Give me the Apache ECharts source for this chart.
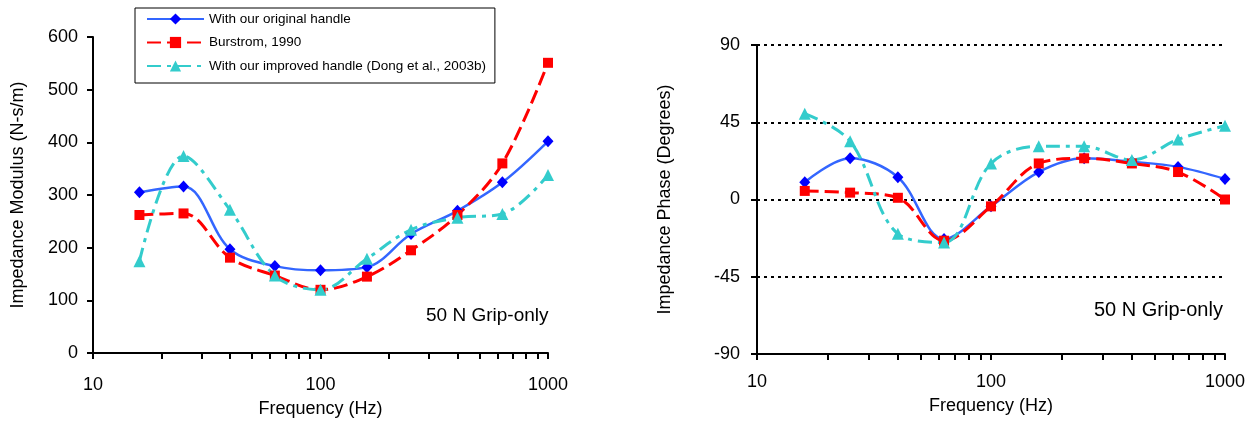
<!DOCTYPE html>
<html>
<head>
<meta charset="utf-8">
<script src="https://cdn.jsdelivr.net/npm/echarts@6/dist/echarts.min.js"></script>
<style>
html,body{margin:0;padding:0;background:#fff;}
#chart{width:1258px;height:421px;}
</style>
</head>
<body>
<div id="chart"></div>
<script>
// ---- data ----
const freq = [16, 25, 40, 63, 100, 160, 250, 400, 630, 1000];
const seriesNames = ['With our original handle', 'Burstrom, 1990', 'With our improved handle (Dong et al., 2003b)'];
const modOriginal = [305, 316, 197, 165, 157, 163, 226, 270, 324, 402];
const modBurstrom = [262, 265, 181, 147, 120, 145, 195, 262, 360, 551];
const modImproved = [174, 374, 272, 147, 120, 179, 234, 257, 264, 338];
const phOriginal = [10, 24, 13, -23, -4, 16, 24, 22, 19, 12];
const phBurstrom = [5, 4, 1, -24, -4, 21, 24, 21, 16, 0];
const phImproved = [50, 34, -20, -25, 21, 31, 31, 23, 35, 43];
const xTickValues = [10,20,30,40,50,60,70,80,90,100,200,300,400,500,600,700,800,900,1000];
const xLabelValues = [10, 100, 1000];
const annotation = '50 N Grip-only';

const FONT = 'Liberation Sans';
const pair = (xs, ys) => xs.map((x, i) => [x, ys[i]]);

const styles = [
  {line: {color: '#3366ff', width: 2.5, type: 'solid'}, symbol: 'diamond', size: [11, 12], color: '#0000ff'},
  {line: {color: '#ff0000', width: 3, type: [14, 6]}, symbol: 'rect', size: 10, color: '#ff0000'},
  {line: {color: '#33cccc', width: 3, type: [14, 6, 4, 6]}, symbol: 'triangle', size: 12, color: '#33cccc'}
];

function mkSeries(name, data, st, idx) {
  return {
    name: name, type: 'line', xAxisIndex: idx, yAxisIndex: idx,
    data: data, smooth: 0.35, symbol: st.symbol, symbolSize: st.size,
    showAllSymbol: true,
    lineStyle: st.line, itemStyle: {color: st.color},
    emphasis: {disabled: true}, z: 3
  };
}

function xAxisCfg(gridIndex, labelMargin, nameGap) {
  return {
    type: 'log', logBase: 10, gridIndex: gridIndex, min: 10, max: 1000,
    name: 'Frequency (Hz)', nameLocation: 'middle', nameGap: nameGap,
    nameTextStyle: {fontFamily: FONT, fontSize: 18, color: '#000'},
    axisLine: {onZero: false, lineStyle: {color: '#000', width: 2}},
    axisTick: {show: true, inside: false, length: 6, lineStyle: {color: '#000', width: 2}, customValues: xTickValues},
    axisLabel: {fontFamily: FONT, fontSize: 18, color: '#000', margin: labelMargin, customValues: xLabelValues,
      formatter: v => String(Math.round(v))},
    splitLine: {show: false}, minorTick: {show: false}
  };
}

const option = {
  backgroundColor: '#fff',
  animation: false,
  legend: {
    left: 135, top: 8, orient: 'vertical',
    data: seriesNames,
    borderColor: '#000', borderWidth: 1, borderRadius: 0,
    padding: [4, 9, 10, 11],
    itemWidth: 57, itemHeight: 14, itemGap: 9.5,
    textStyle: {fontFamily: FONT, fontSize: 13.5, color: '#000'},
    selectedMode: false
  },
  grid: [
    {left: 93, top: 37, width: 455, height: 316, containLabel: false, outerBoundsMode: 'none'},
    {left: 757, top: 45, width: 468, height: 309, containLabel: false, outerBoundsMode: 'none'}
  ],
  xAxis: [xAxisCfg(0, 23, 47), xAxisCfg(1, 19, 43)],
  yAxis: [
    {
      type: 'value', gridIndex: 0, min: 0, max: 600, interval: 100,
      name: 'Impedance Modulus (N-s/m)', nameLocation: 'middle', nameGap: 66,
      nameTextStyle: {fontFamily: FONT, fontSize: 18, color: '#000'},
      axisLine: {show: true, lineStyle: {color: '#000', width: 2}},
      axisTick: {show: true, length: 6, lineStyle: {color: '#000', width: 2}},
      axisLabel: {fontFamily: FONT, fontSize: 18, color: '#000', margin: 15},
      splitLine: {show: false}
    },
    {
      type: 'value', gridIndex: 1, min: -90, max: 90, interval: 45,
      name: 'Impedance Phase (Degrees)', nameLocation: 'middle', nameGap: 83,
      nameTextStyle: {fontFamily: FONT, fontSize: 18, color: '#000'},
      axisLine: {show: true, lineStyle: {color: '#000', width: 2}},
      axisTick: {show: true, length: 6, lineStyle: {color: '#000', width: 2}},
      axisLabel: {fontFamily: FONT, fontSize: 18, color: '#000', margin: 17},
      splitLine: {show: true, lineStyle: {color: '#000', width: 2, type: [3, 4]}}
    }
  ],
  graphic: [
    {type: 'text', left: 426, top: 306, style: {text: annotation, fontFamily: FONT, fontSize: 19, fill: '#000'}},
    {type: 'text', left: 1094, top: 300, style: {text: annotation, fontFamily: FONT, fontSize: 20, fill: '#000'}}
  ],
  series: [
    mkSeries(seriesNames[0], pair(freq, modOriginal), styles[0], 0),
    mkSeries(seriesNames[1], pair(freq, modBurstrom), styles[1], 0),
    mkSeries(seriesNames[2], pair(freq, modImproved), styles[2], 0),
    mkSeries(seriesNames[0], pair(freq, phOriginal), styles[0], 1),
    mkSeries(seriesNames[1], pair(freq, phBurstrom), styles[1], 1),
    mkSeries(seriesNames[2], pair(freq, phImproved), styles[2], 1)
  ]
};

const chart = echarts.init(document.getElementById('chart'), null, {renderer: 'canvas'});
chart.setOption(option);
</script>
</body>
</html>
